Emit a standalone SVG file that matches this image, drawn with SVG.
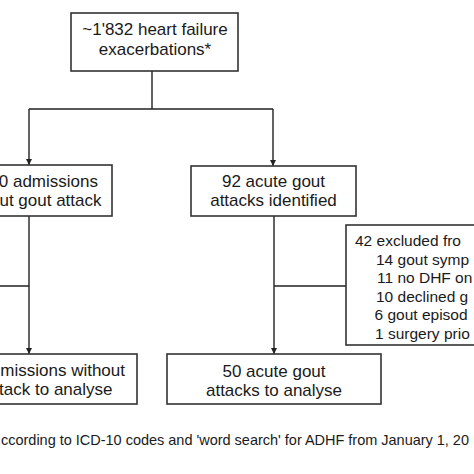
<svg xmlns="http://www.w3.org/2000/svg" width="474" height="474" viewBox="0 0 474 474">
<defs>
<marker id="arr" viewBox="0 0 10 10" refX="10" refY="5" markerWidth="6" markerHeight="6" markerUnits="userSpaceOnUse" orient="auto">
<path d="M0,0 L10,5 L0,10 z" fill="#222"/>
</marker>
<style>
.box{fill:#fff;stroke:#333;stroke-width:1.6}
.t{font-family:"Liberation Sans",Arial,sans-serif;font-size:17px;fill:#1a1a1a;text-anchor:middle}
.te{font-family:"Liberation Sans",Arial,sans-serif;font-size:17px;fill:#1a1a1a;text-anchor:end}
.ex{font-family:"Liberation Sans",Arial,sans-serif;font-size:15.5px;fill:#1a1a1a}
.fn{font-family:"Liberation Sans",Arial,sans-serif;font-size:14.5px;fill:#1a1a1a}
.c{fill:none;stroke:#222;stroke-width:1.4}
</style>
</defs>
<rect width="474" height="474" fill="#fff"/>
<g id="connectors">
<path class="c" d="M152,71 V109 M29,109 H273"/>
<path class="c" d="M29,109 V165" marker-end="url(#arr)"/>
<path class="c" d="M273,109 V166" marker-end="url(#arr)"/>
<path class="c" d="M29,216 V354" marker-end="url(#arr)"/>
<path class="c" d="M274,216 V354" marker-end="url(#arr)"/>
<path class="c" d="M274,286 H346 M-5,286 H29"/>
</g>
<g id="n-top">
<rect class="box" x="71" y="13" width="167" height="58"/>
<text class="t" x="155" y="35">~1'832 heart failure</text>
<text class="t" x="155" y="55">exacerbations*</text>
</g>
<g id="n-noattack">
<rect class="box" x="-54" y="165" width="166" height="51"/>
<text class="te" x="98" y="187">0 admissions</text>
<text class="te" x="101.5" y="206">ut gout attack</text>
</g>
<g id="n-attacks">
<rect class="box" x="191" y="166" width="165" height="50"/>
<text class="t" x="273.5" y="187">92 acute gout</text>
<text class="t" x="273.5" y="206">attacks identified</text>
</g>
<g id="n-excluded">
<rect class="box" x="346" y="225" width="150" height="120"/>
<text class="ex" x="355" y="246">42 excluded fro</text>
<text class="ex" x="376" y="264.5">14 gout symp</text>
<text class="ex" x="377" y="283">11 no DHF on</text>
<text class="ex" x="376" y="301.5">10 declined g</text>
<text class="ex" x="374.5" y="320">6 gout episod</text>
<text class="ex" x="375" y="338.5">1 surgery prio</text>
</g>
<g id="n-noattack-analyse">
<rect class="box" x="-79" y="354" width="216" height="50"/>
<text class="te" x="125" y="375.5">missions without</text>
<text class="te" x="112.5" y="394.5">tack to analyse</text>
</g>
<g id="n-attacks-analyse">
<rect class="box" x="167" y="354" width="214" height="50"/>
<text class="t" x="274" y="377">50 acute gout</text>
<text class="t" x="274" y="395.5">attacks to analyse</text>
</g>
<text class="fn" x="1" y="445" textLength="468" lengthAdjust="spacing">ccording to ICD-10 codes and 'word search' for ADHF from January 1, 20</text>
</svg>
